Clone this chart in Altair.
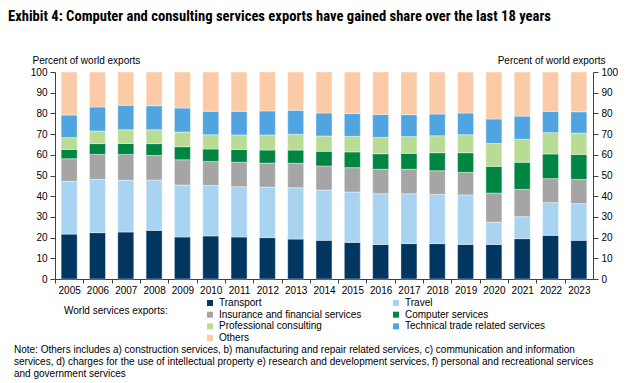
import altair as alt
import pandas as pd

years = [str(y) for y in range(2005, 2024)]
series = ["Transport", "Travel", "Insurance and financial services", "Computer services",
          "Professional consulting", "Technical trade related services", "Others"]
colors = ["#003660", "#A8D4F2", "#A5A5A5", "#008542", "#B8DC94", "#50A5E1", "#FACBA6"]
# legend lays entries out column by column: this order reads row by row as in the reference
legend_order = [0, 2, 4, 6, 1, 3, 5]

transport = [21.7, 22.4, 22.7, 23.5, 20.3, 20.8, 20.3, 20.0, 19.3, 18.7, 17.7, 16.7, 17.1, 17.1, 16.7, 16.7, 19.5, 21.1, 18.7]
travel = [25.5, 25.7, 25.0, 24.3, 25.1, 24.4, 24.3, 24.4, 24.8, 24.3, 24.3, 24.5, 24.1, 23.8, 23.9, 10.8, 10.6, 15.8, 17.7]
insurance = [10.9, 12.1, 12.5, 11.9, 12.2, 11.6, 11.8, 11.6, 11.8, 11.6, 11.8, 11.8, 11.8, 11.4, 10.9, 14.0, 13.2, 11.6, 11.7]
computer = [4.5, 5.2, 5.3, 5.7, 6.3, 6.0, 6.2, 6.3, 6.4, 7.1, 7.6, 7.5, 7.7, 8.7, 9.5, 12.9, 13.1, 11.9, 12.1]
professional = [5.7, 6.1, 6.6, 6.7, 7.1, 6.9, 7.0, 7.3, 7.6, 7.4, 7.5, 7.9, 8.1, 8.2, 8.7, 11.1, 11.1, 10.3, 10.3]
technical = [10.9, 11.6, 11.8, 11.6, 11.6, 11.3, 11.4, 11.6, 11.6, 11.1, 11.0, 11.1, 10.6, 10.5, 10.5, 11.8, 11.2, 10.3, 10.3]
others = [20.8, 16.9, 16.1, 16.3, 17.4, 19.0, 19.0, 18.8, 18.5, 19.8, 20.1, 20.5, 20.6, 20.3, 19.8, 22.7, 21.3, 19.0, 19.2]

y_ticks = list(range(0, 101, 10))
title_text = "Exhibit 4: Computer and consulting services exports have gained share over the last 18 years"
axis_title = "Percent of world exports"
legend_title = "World services exports:"
note_lines = [
    "Note: Others includes a) construction services, b) manufacturing and repair related services, c) communication and information",
    "services, d) charges for the use of intellectual property e) research and development services, f) personal and recreational services",
    "and government services",
]

all_vals = [transport, travel, insurance, computer, professional, technical, others]
rows = []
for i, (name, vals) in enumerate(zip(series, all_vals)):
    for yr, v in zip(years, vals):
        rows.append({"year": yr, "series": name, "idx": i, "value": v})
df = pd.DataFrame(rows)

leg_domain = [series[i] for i in legend_order]
leg_range = [colors[i] for i in legend_order]

FONT = "Liberation Sans, Arial, sans-serif"
TFONT = "Liberation Sans Narrow, Arial Narrow, Roboto Condensed, DejaVu Sans Condensed, sans-serif"

W, H = 538, 207
step = W / len(years)

x_enc = alt.X("year:N", sort=years,
              scale=alt.Scale(paddingInner=0.435, paddingOuter=0.2175),
              axis=alt.Axis(title=None, labelAngle=0, tickOffset=-step / 2, labelOffset=step / 2,
                            tickSize=4, labelPadding=2))

base = alt.Chart(df)
bars = base.mark_bar(stroke="white", strokeWidth=0.4).encode(
    x=x_enc,
    y=alt.Y("value:Q", stack="zero", scale=alt.Scale(domain=[0, 100], nice=False),
            axis=alt.Axis(orient="left", values=y_ticks, title=axis_title, titleAngle=0,
                          titleAlign="left", titleBaseline="middle", titleX=-23, titleY=-12,
                          tickSize=5, labelPadding=3)),
    color=alt.Color("series:N", scale=alt.Scale(domain=leg_domain, range=leg_range),
                    legend=alt.Legend(title=None, orient="none", legendX=150, legendY=226,
                                      columns=2, columnPadding=29, rowPadding=1.7,
                                      symbolType="square", symbolSize=36, symbolStrokeWidth=0,
                                      labelFont=FONT, labelFontSize=10, labelOffset=4,
                                      labelLimit=300, padding=0)),
    order=alt.Order("idx:Q", sort="ascending"),
)

bars_r = base.mark_bar(opacity=0).encode(
    x=x_enc,
    y=alt.Y("value:Q", stack="zero", scale=alt.Scale(domain=[0, 100], nice=False),
            axis=alt.Axis(orient="right", values=y_ticks, title=axis_title, titleAngle=0,
                          titleAlign="right", titleBaseline="middle", titleX=12, titleY=-12,
                          tickSize=5, labelPadding=3)),
    order=alt.Order("idx:Q", sort="ascending"),
)

note = alt.Chart(pd.DataFrame({"t": ["\n".join(note_lines)]})).mark_text(
    align="left", baseline="top", lineBreak="\n", lineHeight=12, fontSize=10, font=FONT, color="black"
).encode(x=alt.value(-41), y=alt.value(273), text="t:N")

leg_title = alt.Chart(pd.DataFrame({"t": [legend_title]})).mark_text(
    align="left", baseline="middle", fontSize=10, font=FONT, color="black"
).encode(x=alt.value(9), y=alt.value(239), text="t:N")

chart = alt.layer(bars, bars_r, note, leg_title).resolve_axis(y="independent").properties(
    width=W, height=H,
    autosize=alt.AutoSizeParams(type="none"),
    padding={"left": 47, "top": 64, "right": 39, "bottom": 104},
    title=alt.Title(title_text, anchor="start", frame="group", dx=-47, offset=31,
                    font=TFONT, fontSize=14.6, fontWeight="bold", color="black"),
).configure_view(stroke=None).configure_axis(
    domainColor="#404040", tickColor="#404040", labelColor="black",
    labelFont=FONT, labelFontSize=10, titleFont=FONT, titleFontSize=10,
    titleFontWeight="normal", titleColor="black", grid=False,
)

chart.save("out.html", embed_options={"renderer": "svg", "actions": False})
